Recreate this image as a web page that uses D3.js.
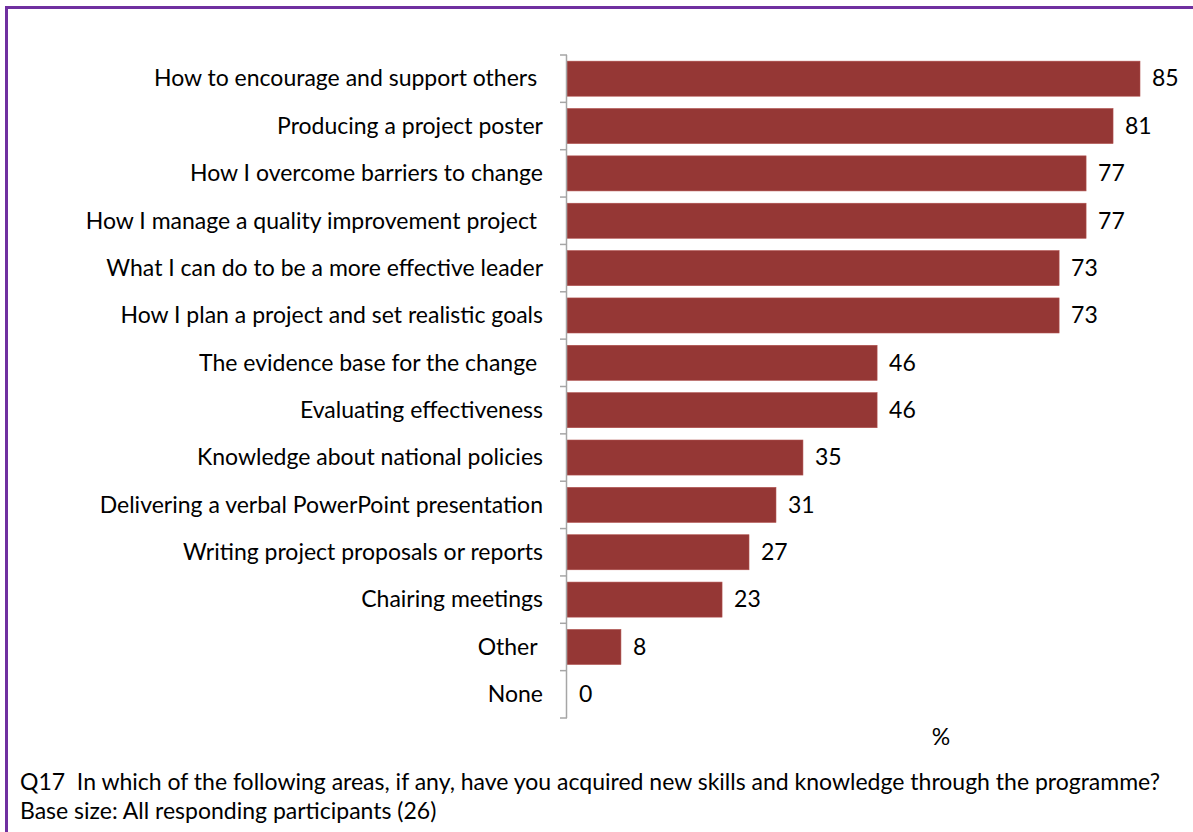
<!DOCTYPE html>
<html>
<head>
<meta charset="utf-8">
<script src="https://cdn.jsdelivr.net/npm/d3@7"></script>
<style>
  html, body { margin: 0; padding: 0; background: #fff; }
  svg { display: block; font-family: Lato, "Open Sans", sans-serif; }
</style>
</head>
<body>
<svg id="chart" width="1193" height="832"></svg>
<script>
// Skill areas, top to bottom
const categories = [
  "How to encourage and support others ",
  "Producing a project poster",
  "How I overcome barriers to change",
  "How I manage a quality improvement project ",
  "What I can do to be a more effective leader",
  "How I plan a project and set realistic goals",
  "The evidence base for the change ",
  "Evaluating effectiveness",
  "Knowledge about national policies",
  "Delivering a verbal PowerPoint presentation",
  "Writing project proposals or reports",
  "Chairing meetings",
  "Other ",
  "None"
];
// Percentage of participants
const values = [85, 81, 77, 77, 73, 73, 46, 46, 35, 31, 27, 23, 8, 0];

const axisUnit = "%";
const captionLines = [
  "Q17  In which of the following areas, if any, have you acquired new skills and knowledge through the programme?",
  "Base size: All responding participants (26)"
];

const fontSize = 23;
const svg = d3.select("#chart");

// Frame: purple border along the top and left
svg.append("rect")
  .attr("x", 6.5).attr("y", 7.5)
  .attr("width", 1200).attr("height", 840)
  .attr("fill", "none")
  .attr("stroke", "#7030A0")
  .attr("stroke-width", 3);

const plotLeft = 567, plotTop = 55, plotBottom = 718;

const y = d3.scaleBand()
  .domain(categories)
  .range([plotTop, plotBottom])
  .paddingInner(0.26)
  .paddingOuter(0.13);

const x = d3.scaleLinear()
  .domain([0, 85])
  .range([plotLeft, 1140]);

// Bars
svg.append("g").selectAll("rect")
  .data(values)
  .join("rect")
  .attr("x", x(0))
  .attr("y", (d, i) => y(categories[i]))
  .attr("width", d => x(d) - x(0))
  .attr("height", y.bandwidth())
  .attr("fill", "#953735")
  .attr("stroke", d => d > 0 ? "#b0504d" : "none")
  .attr("stroke-width", 0.6);

// Value labels
svg.append("g").selectAll("text")
  .data(values)
  .join("text")
  .attr("x", d => x(d) + 12)
  .attr("y", (d, i) => y(categories[i]) + y.bandwidth() / 2)
  .attr("dy", "0.34em")
  .attr("font-size", fontSize)
  .attr("fill", "#000")
  .text(d => d);

// Category axis with outward ticks at band boundaries
const axisG = svg.append("g");
axisG.append("line")
  .attr("x1", plotLeft - 0.5).attr("x2", plotLeft - 0.5)
  .attr("y1", plotTop).attr("y2", plotBottom)
  .attr("stroke", "#a6a6a6").attr("stroke-width", 1.5);
const step = (plotBottom - plotTop) / categories.length;
axisG.selectAll("line.tick")
  .data(d3.range(categories.length + 1))
  .join("line")
  .attr("class", "tick")
  .attr("x1", plotLeft - 7).attr("x2", plotLeft)
  .attr("y1", i => plotTop + i * step)
  .attr("y2", i => plotTop + i * step)
  .attr("stroke", "#a6a6a6").attr("stroke-width", 1.5);

axisG.selectAll("text")
  .data(categories)
  .join("text")
  .attr("x", 543)
  .attr("y", d => y(d) + y.bandwidth() / 2)
  .attr("dy", "0.34em")
  .attr("text-anchor", "end")
  .attr("font-size", fontSize)
  .attr("fill", "#000")
  .style("white-space", "pre")
  .text(d => d);

// Axis unit
svg.append("text")
  .attr("x", 941).attr("y", 745)
  .attr("text-anchor", "middle")
  .attr("font-size", fontSize)
  .text(axisUnit);

// Caption
svg.append("g").selectAll("text")
  .data(captionLines)
  .join("text")
  .attr("x", 20)
  .attr("y", (d, i) => 790 + i * 29)
  .attr("font-size", fontSize)
  .style("white-space", "pre")
  .text(d => d);
</script>
</body>
</html>
